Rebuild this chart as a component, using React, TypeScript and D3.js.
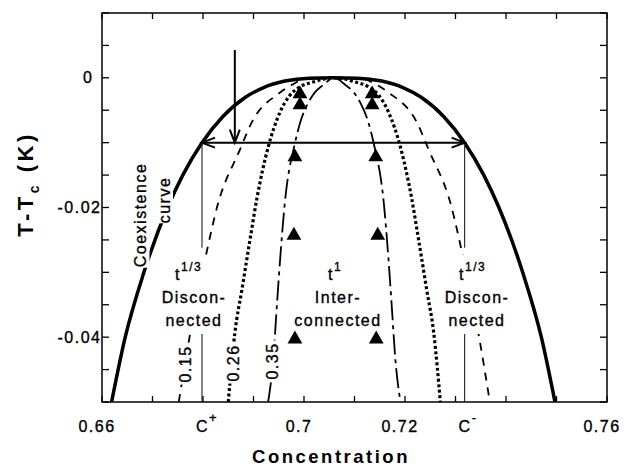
import * as d3 from "d3";
import {useEffect, useRef} from "react";

// coexistence curve: [concentration, T - Tc]
const coexistence = [
    [0.6619, -0.05], [0.6646, -0.04], [0.6683, -0.03], [0.6730, -0.02], [0.6760, -0.015],
    [0.6798, -0.01], [0.6839, -0.006], [0.6884, -0.003], [0.6920, -0.0015], [0.6962, -0.0005],
    [0.7010, -0.00005], [0.7058, 0], [0.7106, -0.00005], [0.7154, -0.0005], [0.7196, -0.0015],
    [0.7232, -0.003], [0.7277, -0.006], [0.7318, -0.01], [0.7356, -0.015], [0.7386, -0.02],
    [0.7433, -0.03], [0.7470, -0.04], [0.7497, -0.05]
];

// boundary curves labelled 0.15, 0.26, 0.35
const curve015 = [
    [0.6752, -0.05], [0.6774, -0.0397], [0.6808, -0.0266], [0.6828, -0.0199], [0.6873, -0.0111],
    [0.6897, -0.0068], [0.6952, -0.0023], [0.6978, -0.001], [0.7002, -0.0002], [0.7060, 0],
    [0.7118, -0.0002], [0.7142, -0.001], [0.7168, -0.0023], [0.7223, -0.0068], [0.7247, -0.0111],
    [0.7292, -0.0199], [0.7312, -0.0266], [0.7346, -0.0397], [0.7368, -0.05]
];
const curve026 = [
    [0.6850, -0.05], [0.6863, -0.0394], [0.6877, -0.0327], [0.6893, -0.025], [0.6907, -0.0185],
    [0.6929, -0.0107], [0.6952, -0.0054], [0.6972, -0.0027], [0.6992, -0.0014], [0.7018, -0.00065],
    [0.7060, 0], [0.7102, -0.00065], [0.7128, -0.0014], [0.7148, -0.0027], [0.7168, -0.0054],
    [0.7191, -0.0107], [0.7213, -0.0185], [0.7227, -0.025], [0.7243, -0.0327], [0.7257, -0.0394],
    [0.7270, -0.05]
];
const curve035 = [
    [0.6929, -0.05], [0.6939, -0.0435], [0.6947, -0.0343], [0.6953, -0.0277], [0.6962, -0.0193],
    [0.6982, -0.0101], [0.6992, -0.007], [0.7008, -0.0039], [0.7022, -0.0022], [0.7038, -0.0011],
    [0.7060, 0], [0.7082, -0.0011], [0.7098, -0.0022], [0.7112, -0.0039], [0.7128, -0.007],
    [0.7138, -0.0101], [0.7158, -0.0193], [0.7167, -0.0277], [0.7173, -0.0343], [0.7181, -0.0435],
    [0.7191, -0.05]
];

// measured points (triangles)
const triangles = [
    [0.6992, -0.0025], [0.6992, -0.0042], [0.6982, -0.0122], [0.6980, -0.0243], [0.6982, -0.0403],
    [0.7135, -0.0025], [0.7135, -0.0042], [0.7142, -0.0122], [0.7146, -0.0243], [0.7143, -0.0403]
];

// quench level, arrow and c+/c- markers
const quenchT = -0.01;
const arrowConc = 0.6863;
const arrowTopT = 0.0043;
const cPlus = 0.6798;
const cMinus = 0.7318;
const cLineGap = [-0.0262, -0.0394];

// tick labels
const xLabelValues = [0.66, 0.7, 0.72, 0.76];
const xLabelText = ["0.66", "0.7", "0.72", "0.76"];
const yLabelValues = [0, -0.02, -0.04];
const yLabelText = ["0", "-0.02", "-0.04"];

export default function App() {
    const ref = useRef<SVGSVGElement>(null);

    useEffect(() => {
        const svg = d3.select(ref.current);
        svg.selectAll("*").remove();

        const font = "'Liberation Sans', Arial, Helvetica, sans-serif";
        const x = d3.scaleLinear().domain([0.66, 0.76]).range([102, 607]);
        const y = d3.scaleLinear().domain([-0.05, 0.01]).range([402, 13]);

        svg.append("defs").append("clipPath").attr("id", "plot").append("rect")
            .attr("x", 102).attr("y", 13).attr("width", 505).attr("height", 389);

        const line = d3.line<number[]>().x(d => x(d[0])).y(d => y(d[1])).curve(d3.curveMonotoneX);
        const plot = svg.append("g").attr("clip-path", "url(#plot)");

        // the three boundary curves
        plot.append("path").datum(curve015).attr("d", line).attr("fill", "none")
            .attr("stroke", "#000").attr("stroke-width", 1.8).attr("stroke-dasharray", "8,7");
        plot.append("path").datum(curve026).attr("d", line).attr("fill", "none")
            .attr("stroke", "#000").attr("stroke-width", 3.2).attr("stroke-dasharray", "3,2.5");
        plot.append("path").datum(curve035).attr("d", line).attr("fill", "none")
            .attr("stroke", "#000").attr("stroke-width", 1.8).attr("stroke-dasharray", "20,5,4,5");

        // coexistence curve
        plot.append("path").datum(coexistence).attr("d", line).attr("fill", "none")
            .attr("stroke", "#000").attr("stroke-width", 3.5);

        // thin verticals at c+ and c-
        [cPlus, cMinus].forEach(c => {
            plot.append("line").attr("x1", x(c)).attr("x2", x(c))
                .attr("y1", y(quenchT)).attr("y2", y(cLineGap[0]))
                .attr("stroke", "#333").attr("stroke-width", 1.2);
            plot.append("line").attr("x1", x(c)).attr("x2", x(c))
                .attr("y1", y(cLineGap[1])).attr("y2", y(-0.05))
                .attr("stroke", "#333").attr("stroke-width", 1.2);
        });

        // labels with a white box behind them, so lines break
        const masked = (g, pad) => {
            const b = g.node().getBBox();
            g.insert("rect", ":first-child").attr("x", b.x - pad).attr("y", b.y - pad)
                .attr("width", b.width + 2 * pad).attr("height", b.height + 2 * pad).attr("fill", "#fff");
        };
        const text = (g, tx, ty, str, size = 16, anchor = "middle") =>
            g.append("text").attr("x", tx).attr("y", ty).attr("font-family", font)
                .attr("font-size", size).attr("letter-spacing", 1.5).attr("text-anchor", anchor)
                .attr("stroke", "#000").attr("stroke-width", 0.35).text(str);

        const block = (tx, lines, sup, tX) => {
            const g = svg.append("g");
            const t = g.append("text").attr("x", tX).attr("y", 280).attr("font-family", font)
                .attr("font-size", 16).attr("letter-spacing", 1.5)
                .attr("stroke", "#000").attr("stroke-width", 0.35);
            t.append("tspan").text("t");
            t.append("tspan").attr("font-size", 12).attr("dy", -9).text(sup);
            text(g, tx, 303, lines[0]);
            text(g, tx, 326, lines[1]);
            masked(g, 5);
        };
        block(194, ["Discon-", "nected"], "1/3", 175);
        block(338, ["Inter-", "connected"], "1", 328);
        block(477, ["Discon-", "nected"], "1/3", 459);

        const vertical = (gx, gy, str, pad) => {
            const g = svg.append("g").attr("transform", `translate(${gx},${gy}) rotate(-90)`);
            text(g, 0, 0, str);
            masked(g, pad);
        };
        vertical(146, 215, "Coexistence", 0.5);
        vertical(170, 200, "curve", 0);
        vertical(191, 364, "0.15", 2);
        vertical(238.5, 363, "0.26", 2);
        vertical(277.5, 361, "0.35", 2);

        // double arrow between c+ and c-
        const arrows = svg.append("g").attr("stroke", "#000").attr("stroke-width", 2).attr("fill", "none");
        const yq = y(quenchT);
        arrows.append("line").attr("x1", x(cPlus)).attr("x2", x(cMinus)).attr("y1", yq).attr("y2", yq);
        arrows.append("path").attr("d", `M${x(cPlus) + 13},${yq - 5}L${x(cPlus)},${yq}L${x(cPlus) + 13},${yq + 5}`);
        arrows.append("path").attr("d", `M${x(cMinus) - 13},${yq - 5}L${x(cMinus)},${yq}L${x(cMinus) - 13},${yq + 5}`);
        // quench arrow
        const xa = x(arrowConc);
        arrows.append("line").attr("x1", xa).attr("x2", xa).attr("y1", y(arrowTopT)).attr("y2", yq);
        arrows.append("path").attr("d", `M${xa - 5},${yq - 13}L${xa},${yq}L${xa + 5},${yq - 13}`);

        // triangles
        svg.append("g").selectAll("path").data(triangles).join("path")
            .attr("transform", d => `translate(${x(d[0])},${y(d[1])})`)
            .attr("d", d3.symbol(d3.symbolTriangle, 95)).attr("fill", "#000");

        // frame and inward ticks
        svg.append("rect").attr("x", 102).attr("y", 13).attr("width", 505).attr("height", 389)
            .attr("fill", "none").attr("stroke", "#000").attr("stroke-width", 1.5);
        const ticks = svg.append("g").attr("stroke", "#000").attr("stroke-width", 1.3);
        x.ticks(10).forEach(v => {
            ticks.append("line").attr("x1", x(v)).attr("x2", x(v)).attr("y1", 402).attr("y2", 396);
            ticks.append("line").attr("x1", x(v)).attr("x2", x(v)).attr("y1", 13).attr("y2", 19);
        });
        y.ticks(12).forEach(v => {
            ticks.append("line").attr("x1", 102).attr("x2", 109).attr("y1", y(v)).attr("y2", y(v));
            ticks.append("line").attr("x1", 607).attr("x2", 600).attr("y1", y(v)).attr("y2", y(v));
        });

        // tick labels
        xLabelValues.forEach((v, i) => text(svg, x(v) - 5, 432, xLabelText[i]));
        yLabelValues.forEach((v, i) => text(svg, v === 0 ? 93.5 : 101.5, y(v), yLabelText[i], 16, "end")
            .attr("dy", "0.35em"));
        [[cPlus, "+"], [cMinus, "-"]].forEach(([c, s]) => {
            const t = text(svg, x(c) - 6, 432, "", 16, "start");
            t.append("tspan").text("C");
            t.append("tspan").attr("font-size", 13).attr("dy", -10).text(s);
        });

        // axis titles
        svg.append("text").attr("x", 331).attr("y", 463).attr("text-anchor", "middle")
            .attr("font-family", font).attr("font-weight", "bold").attr("font-size", 18.5)
            .attr("letter-spacing", 2.5).text("Concentration");
        const yt = svg.append("text").attr("transform", "translate(33,184) rotate(-90)")
            .attr("text-anchor", "middle").attr("font-family", font).attr("font-weight", "bold")
            .attr("font-size", 22).attr("letter-spacing", 3.5);
        yt.append("tspan").text("T-T");
        yt.append("tspan").attr("font-size", 14).attr("dy", 6).text("c");
        yt.append("tspan").attr("dy", -6).text(" (K)");
    }, []);

    return <svg ref={ref} width={625} height={467}
                style={{position: "absolute", left: 0, top: 0, background: "#fff"}}></svg>;
}
